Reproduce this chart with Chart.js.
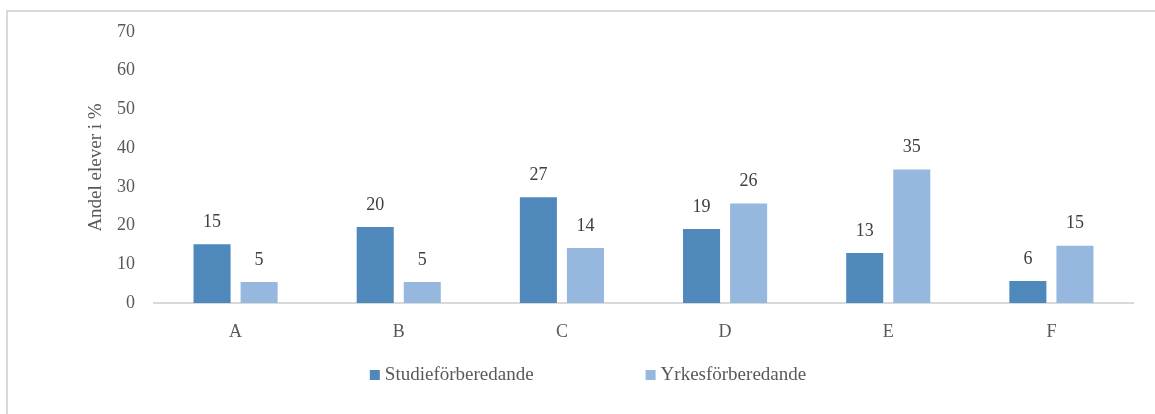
<!DOCTYPE html>
<html>
<head>
<meta charset="utf-8">
<script src="https://cdn.jsdelivr.net/npm/chart.js@4"></script>
<style>
  body { margin: 0; background: #fff; overflow: hidden; }
  #frame { position: absolute; left: 6px; top: 10px; width: 1200px; height: 450px; border-left: 2px solid #d9d9d9; border-top: 2px solid #d9d9d9; }
  #wrap { position: absolute; left: 0; top: 0; width: 1155px; height: 414px; }
</style>
</head>
<body>
<div id="frame"></div>
<div id="wrap"><canvas id="chart"></canvas></div>
<script>
// DATA
const categories = ['A', 'B', 'C', 'D', 'E', 'F'];
const studie = [15.2, 19.6, 27.3, 19.1, 12.9, 5.7];
const yrkes = [5.4, 5.4, 14.2, 25.7, 34.5, 14.8];
const seriesNames = ['Studieförberedande', 'Yrkesförberedande'];
const yTicks = [0, 10, 20, 30, 40, 50, 60, 70];
// DATA

const FONT = "'Liberation Serif', 'Times New Roman', serif";

// value labels above bars
const barLabels = {
    id: 'barLabels',
    afterDatasetsDraw(chart) {
        const ctx = chart.ctx;
        ctx.save();
        ctx.font = '18px ' + FONT;
        ctx.fillStyle = '#404040';
        ctx.textAlign = 'center';
        ctx.textBaseline = 'middle';
        chart.data.datasets.forEach(function(ds, i) {
            chart.getDatasetMeta(i).data.forEach(function(bar, j) {
                ctx.fillText(Math.round(ds.data[j]), bar.x, bar.y - 22);
            });
        });
        ctx.restore();
    }
};

// legend under the chart
const bottomLegend = {
    id: 'bottomLegend',
    afterDraw(chart) {
        const ctx = chart.ctx;
        ctx.save();
        ctx.font = '19px ' + FONT;
        ctx.textBaseline = 'middle';
        const box = 10, gap = 5, spacing = 112;
        const items = chart.data.datasets.map(function(ds) {
            return { text: ds.label, color: ds.backgroundColor, w: box + gap + ctx.measureText(ds.label).width };
        });
        let total = items.reduce(function(s, it) { return s + it.w; }, 0) + spacing * (items.length - 1);
        let x = 588 - total / 2;
        const y = 375;
        items.forEach(function(it) {
            ctx.fillStyle = it.color;
            ctx.fillRect(x, y - box / 2, box, box);
            ctx.fillStyle = '#595959';
            ctx.fillText(it.text, x + box + gap, y);
            x += it.w + spacing;
        });
        ctx.restore();
    }
};

const ctx = document.getElementById('chart').getContext('2d');
new Chart(ctx, {
    type: 'bar',
    data: {
        labels: categories,
        datasets: [{
            label: seriesNames[0],
            data: studie,
            backgroundColor: '#4f89bc',
            categoryPercentage: 0.577,
            barPercentage: 0.787
        }, {
            label: seriesNames[1],
            data: yrkes,
            backgroundColor: '#96b8df',
            categoryPercentage: 0.577,
            barPercentage: 0.787
        }]
    },
    options: {
        responsive: true,
        maintainAspectRatio: false,
        animation: false,
        layout: { padding: { top: 32, right: 22, bottom: 71, left: 0 } },
        plugins: {
            legend: { display: false },
            tooltip: { enabled: false }
        },
        scales: {
            x: {
                grid: { display: false, drawTicks: false },
                border: { display: true, color: '#d9d9d9', width: 2 },
                ticks: { color: '#595959', font: { family: FONT, size: 18 }, padding: 18 },
                afterFit: function(scale) { scale.height = 40; }
            },
            y: {
                min: 0,
                max: 70,
                afterBuildTicks: function(scale) {
                    scale.ticks = yTicks.map(function(v) { return { value: v }; });
                },
                grid: { display: false, drawTicks: false },
                border: { display: false },
                ticks: { color: '#595959', font: { family: FONT, size: 18 }, padding: 19 },
                title: {
                    display: true,
                    text: 'Andel elever i %',
                    color: '#595959',
                    font: { family: FONT, size: 19 },
                    padding: { top: 85, bottom: 0 }
                },
                afterFit: function(scale) { scale.width = 154; }
            }
        }
    },
    plugins: [barLabels, bottomLegend]
});
</script>
</body>
</html>
